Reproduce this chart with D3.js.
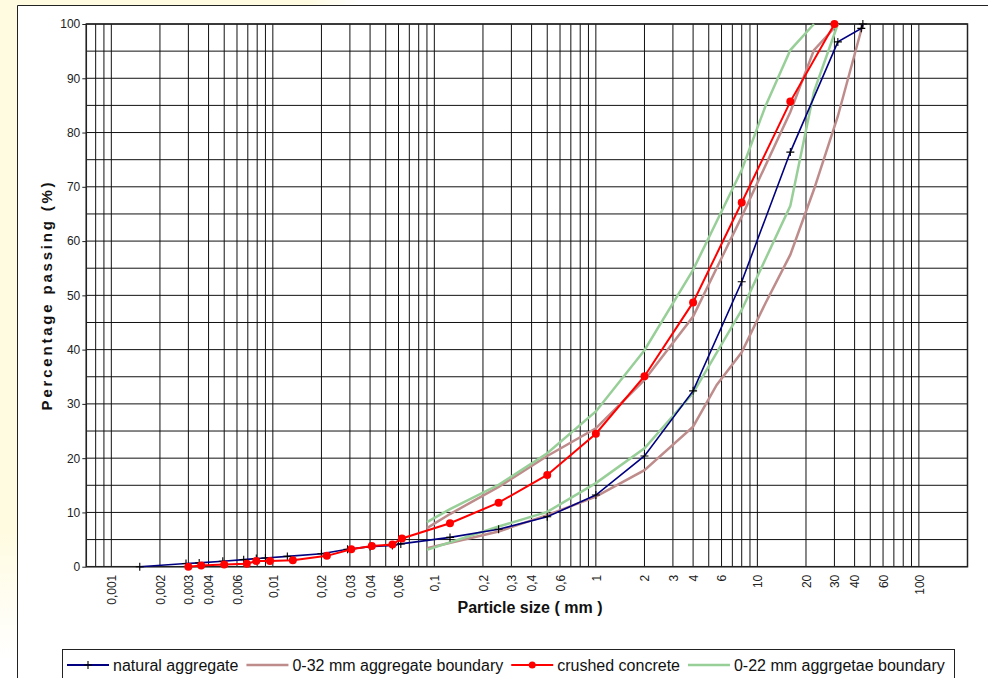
<!DOCTYPE html>
<html>
<head>
<meta charset="utf-8">
<script src="https://cdn.jsdelivr.net/npm/d3@7"></script>
<style>
  body { margin: 0; background: #fff; }
  svg { display: block; font-family: "Liberation Sans", Arial, sans-serif; }
</style>
</head>
<body>
<div></div>
<script>
// sieve sizes (mm) and percentage passing
var naturalSize = [0.0015, 0.0029, 0.0035, 0.0049, 0.0066, 0.0079, 0.009, 0.0123, 0.02, 0.029, 0.04, 0.055, 0.062, 0.125, 0.25, 0.5, 1, 2, 4, 8, 16, 31.5, 44, 45];
var naturalPass = [0, 0.6, 0.7, 1.0, 1.3, 1.5, 1.6, 1.9, 2.4, 3.2, 3.7, 3.9, 4.2, 5.4, 6.9, 9.2, 13.2, 20.4, 32.4, 52.5, 76.4, 96.7, 99.2, 100];

var crushedSize = [0.003, 0.0036, 0.005, 0.0069, 0.0079, 0.0096, 0.0133, 0.0216, 0.0306, 0.041, 0.055, 0.063, 0.125, 0.25, 0.5, 1, 2, 4, 8, 16, 30];
var crushedPass = [0, 0.2, 0.4, 0.55, 1.05, 1.05, 1.2, 2.0, 3.2, 3.8, 4.1, 5.2, 8.0, 11.8, 16.9, 24.5, 35.1, 48.7, 67.1, 85.7, 100];

var b32UpperSize = [0.09, 0.125, 0.25, 0.5, 1, 2, 4, 8, 16, 22.4, 31.5];
var b32UpperPass = [7.1, 9.7, 14.7, 20.4, 25.5, 34.4, 46.1, 64.5, 83.8, 95.2, 100];
var b32LowerSize = [0.09, 0.25, 0.5, 1, 2, 4, 5.6, 8, 11.2, 16, 22.4, 31.5, 45];
var b32LowerPass = [3.4, 6.5, 9.5, 12.9, 17.8, 25.8, 33.5, 39.5, 48.5, 57.5, 69.5, 83, 100];

var b22UpperSize = [0.09, 0.125, 0.25, 0.5, 1, 2, 4, 8, 11.2, 16, 22.4];
var b22UpperPass = [8.2, 10.6, 15.1, 20.9, 28.6, 39.9, 54.7, 73.1, 84.8, 95.2, 100];
var b22LowerSize = [0.09, 0.25, 0.5, 1, 2, 4, 8, 16, 22.4, 31.5];
var b22LowerPass = [3.1, 7.4, 10.1, 15.4, 21.8, 32, 47.3, 66.5, 87.5, 100];

var xTickVals = [0.001, 0.002, 0.003, 0.004, 0.006, 0.01, 0.02, 0.03, 0.04, 0.06, 0.1, 0.2, 0.3, 0.4, 0.6, 1, 2, 3, 4, 6, 10, 20, 30, 40, 60, 100];
var xTickLabels = ["0,001", "0,002", "0,003", "0,004", "0,006", "0,01", "0,02", "0,03", "0,04", "0,06", "0,1", "0,2", "0,3", "0,4", "0,6", "1", "2", "3", "4", "6", "10", "20", "30", "40", "60", "100"];
var yTickVals = [0, 10, 20, 30, 40, 50, 60, 70, 80, 90, 100];

var seriesNames = ["natural aggregate", "0-32 mm aggregate boundary", "crushed concrete", "0-22 mm aggrgetae boundary"];

var W = 988, H = 678;
var pLeft = 86.3, pRight = 967.5, pTop = 24, pBottom = 566.7;

var svg = d3.select("div").append("svg").attr("width", W).attr("height", H);

// pale yellow backdrop on the left edge
var defs = svg.append("defs");
var g1 = defs.append("linearGradient").attr("id", "topfade").attr("x1", 0).attr("x2", 1).attr("y1", 0).attr("y2", 0);
g1.append("stop").attr("offset", 0).attr("stop-color", "#fffbe0");
g1.append("stop").attr("offset", 0.85).attr("stop-color", "#fffbe0");
g1.append("stop").attr("offset", 1).attr("stop-color", "#fff");
var g2 = defs.append("linearGradient").attr("id", "leftfade").attr("x1", 0).attr("x2", 0).attr("y1", 0).attr("y2", 1);
g2.append("stop").attr("offset", 0).attr("stop-color", "#fffbe0");
g2.append("stop").attr("offset", 0.8).attr("stop-color", "#fffbe0");
g2.append("stop").attr("offset", 1).attr("stop-color", "#fff");
svg.append("rect").attr("x", 0).attr("y", 0).attr("width", 360).attr("height", 5).attr("fill", "url(#topfade)");
svg.append("rect").attr("x", 0).attr("y", 0).attr("width", 17).attr("height", 660).attr("fill", "url(#leftfade)");

// chart area frame
svg.append("path").attr("d", "M17.5," + H + "V5.5H" + W).attr("fill", "none").attr("stroke", "#222").attr("stroke-width", 1);

var x = d3.scaleLog().domain([0.0007, 200]).range([pLeft, pRight]);
var y = d3.scaleLinear().domain([0, 100]).range([pBottom, pTop]);

// grid
svg.append("g").selectAll("line").data(x.ticks()).enter().append("line")
  .attr("x1", function(d) { return x(d); }).attr("x2", function(d) { return x(d); })
  .attr("y1", pTop).attr("y2", pBottom)
  .attr("stroke", "#111").attr("stroke-width", 1);
svg.append("g").selectAll("line").data(d3.range(0, 101, 5)).enter().append("line")
  .attr("x1", pLeft).attr("x2", pRight)
  .attr("y1", function(d) { return y(d); }).attr("y2", function(d) { return y(d); })
  .attr("stroke", "#111").attr("stroke-width", 1);

svg.append("rect").attr("x", pLeft).attr("y", pTop).attr("width", pRight - pLeft).attr("height", pBottom - pTop)
  .attr("fill", "none").attr("stroke", "#222").attr("stroke-width", 1.5);

// axes
var yAxis = svg.append("g").attr("transform", "translate(" + pLeft + ",0)")
  .call(d3.axisLeft(y).tickValues(yTickVals).tickSize(4).tickPadding(2));
yAxis.select(".domain").remove();
yAxis.selectAll("text").style("font-size", "12px").attr("fill", "#222");
yAxis.selectAll("line").attr("stroke", "#222");

var xAxis = svg.append("g").attr("transform", "translate(0," + pBottom + ")")
  .call(d3.axisBottom(x).tickValues(xTickVals).tickSize(0).tickFormat(function(d, i) { return xTickLabels[i]; }));
xAxis.select(".domain").remove();
xAxis.selectAll("text")
  .attr("transform", "rotate(-90)")
  .attr("x", -8).attr("y", 0).attr("dy", "0.35em")
  .style("text-anchor", "end").style("font-size", "12px").attr("fill", "#222");

svg.append("text").attr("transform", "translate(52,295) rotate(-90)")
  .attr("text-anchor", "middle").style("font-size", "15px").style("font-weight", "bold")
  .style("letter-spacing", "2.8px").attr("fill", "#111").text("Percentage passing (%)");
svg.append("text").attr("x", 530).attr("y", 613)
  .attr("text-anchor", "middle").style("font-size", "16px").style("font-weight", "bold")
  .attr("fill", "#111").text("Particle size ( mm )");

function pts(sz, ps) { return sz.map(function(s, i) { return [s, ps[i]]; }); }
var line = d3.line().x(function(d) { return x(d[0]); }).y(function(d) { return y(d[1]); });

var brown = "#bf8c8c", green = "#98cf98", blue = "#000080", red = "#ff0000";

[pts(b32UpperSize, b32UpperPass), pts(b32LowerSize, b32LowerPass)].forEach(function(p) {
  svg.append("path").datum(p).attr("d", line).attr("fill", "none").attr("stroke", brown).attr("stroke-width", 2.5);
});
[pts(b22UpperSize, b22UpperPass), pts(b22LowerSize, b22LowerPass)].forEach(function(p) {
  svg.append("path").datum(p).attr("d", line).attr("fill", "none").attr("stroke", green).attr("stroke-width", 2.5);
});

var nat = pts(naturalSize, naturalPass);
svg.append("path").datum(nat).attr("d", line).attr("fill", "none").attr("stroke", blue).attr("stroke-width", 1.6);
svg.append("g").selectAll("path").data(nat).enter().append("path")
  .attr("d", function(d) { var cx = x(d[0]), cy = y(d[1]); return "M" + (cx - 4) + "," + cy + "H" + (cx + 4) + "M" + cx + "," + (cy - 4) + "V" + (cy + 4); })
  .attr("stroke", "#000").attr("stroke-width", 1.1);

var cr = pts(crushedSize, crushedPass);
svg.append("path").datum(cr).attr("d", line).attr("fill", "none").attr("stroke", red).attr("stroke-width", 2);
svg.append("g").selectAll("circle").data(cr).enter().append("circle")
  .attr("cx", function(d) { return x(d[0]); }).attr("cy", function(d) { return y(d[1]); })
  .attr("r", 4).attr("fill", red);

// legend
svg.append("rect").attr("x", 62.5).attr("y", 649.5).attr("width", 892).attr("height", 40)
  .attr("fill", "#fff").attr("stroke", "#222").attr("stroke-width", 1);
var legendColors = [blue, brown, red, green];
var lx = 67, ly = 665;
seriesNames.forEach(function(name, i) {
  var g = svg.append("g");
  g.append("line").attr("x1", lx).attr("x2", lx + 42).attr("y1", ly).attr("y2", ly)
    .attr("stroke", legendColors[i]).attr("stroke-width", (i === 1 || i === 3) ? 2.5 : 1.8);
  if (i === 0) {
    g.append("path").attr("d", "M" + (lx + 17) + "," + ly + "H" + (lx + 25) + "M" + (lx + 21) + "," + (ly - 4) + "V" + (ly + 4))
      .attr("stroke", "#000").attr("stroke-width", 1.1);
  }
  if (i === 2) {
    g.append("circle").attr("cx", lx + 21).attr("cy", ly).attr("r", 3.5).attr("fill", red);
  }
  var t = g.append("text").attr("x", lx + 46).attr("y", ly + 6).style("font-size", "16px").attr("fill", "#111").text(name);
  lx = lx + 46 + t.node().getComputedTextLength() + 8;
});
</script>
</body>
</html>
